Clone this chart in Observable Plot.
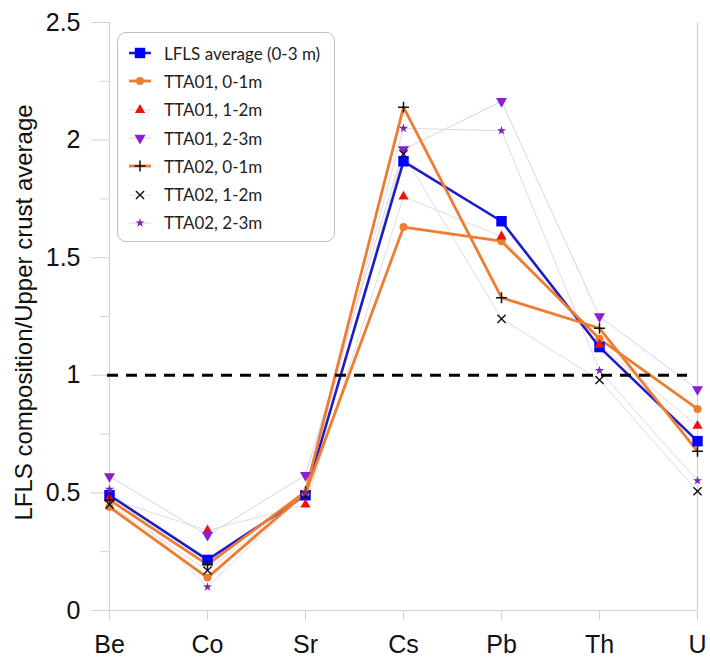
<!DOCTYPE html>
<html>
<head>
<meta charset="utf-8">
<script src="https://cdn.jsdelivr.net/npm/d3@7"></script>
<script src="https://cdn.jsdelivr.net/npm/@observablehq/plot@0.6"></script>
<style>
  html, body { margin: 0; padding: 0; background: #fff; }
  #wrap { position: relative; width: 710px; height: 658px; }
  #wrap svg.plot { display: block; }
  #legend {
    position: absolute; left: 117px; top: 32px; width: 218px; height: 210px;
    border: 1px solid #bdbdbd; border-radius: 9px; background: #fff; box-sizing: border-box;
    font-family: Lato, "Open Sans", sans-serif; font-size: 17px; color: #222;
    padding-top: 6px;
  }
  .lrow { display: flex; align-items: center; height: 28.3px; }
  .lrow svg { margin-left: 10px; margin-right: 12px; flex: none; }
</style>
</head>
<body>
<div id="wrap"><div id="legend"></div></div>
<script>
// ---------- data ----------
const categories = ["Be", "Co", "Sr", "Cs", "Pb", "Th", "U"];
const lflsAverage = [0.49, 0.215, 0.49, 1.91, 1.655, 1.12, 0.72];
const tta01_0_1 = [0.44, 0.14, 0.50, 1.63, 1.57, 1.155, 0.857];
const tta01_1_2 = [0.475, 0.34, 0.45, 1.76, 1.59, 1.13, 0.785];
const tta01_2_3 = [0.57, 0.32, 0.575, 1.96, 2.165, 1.25, 0.94];
const tta02_0_1 = [0.47, 0.195, 0.505, 2.14, 1.33, 1.20, 0.677];
const tta02_1_2 = [0.45, 0.17, 0.49, 1.94, 1.24, 0.98, 0.507];
const tta02_2_3 = [0.515, 0.10, 0.50, 2.05, 2.04, 1.02, 0.552];
const referenceLevel = [1];
const seriesNames = ["LFLS average (0-3 m)", "TTA01, 0-1m", "TTA01, 1-2m", "TTA01, 2-3m", "TTA02, 0-1m", "TTA02, 1-2m", "TTA02, 2-3m"];
const yTicks = [0, 0.5, 1, 1.5, 2, 2.5];
const yTickLabels = ["0", "0.5", "1", "1.5", "2", "2.5"];
const yMinorTicks = [0.25, 0.75, 1.25, 1.75, 2.25];
const yLabel = "LFLS composition/Upper crust average";

// ---------- styles ----------
const triangleDown = {
  draw(ctx, size) {
    const y = Math.sqrt(size / (Math.sqrt(3) * 3));
    ctx.moveTo(0, y * 2);
    ctx.lineTo(-Math.sqrt(3) * y, -y);
    ctx.lineTo(Math.sqrt(3) * y, -y);
    ctx.closePath();
  }
};
const seriesValues = [lflsAverage, tta01_0_1, tta01_1_2, tta01_2_3, tta02_0_1, tta02_1_2, tta02_2_3];
const styles = [
  {line: "#1c1cc8", lw: 2.6, symbol: "square", fill: "#0000ff", stroke: "none", r: 5.9},
  {line: "#ed7d31", lw: 2.8, symbol: "circle", fill: "#ed7d31", stroke: "none", r: 4},
  {line: "#e2dcdc", lw: 1, symbol: "triangle", fill: "#f01010", stroke: "none", r: 3.8},
  {line: "#dccfe8", lw: 1, symbol: triangleDown, fill: "#8a1fcf", stroke: "none", r: 4.1},
  {line: "#ed7d31", lw: 2.8, symbol: "plus", fill: "none", stroke: "#111", r: 3.6, sw: 1.5},
  {line: "#dddddd", lw: 1, symbol: "times", fill: "none", stroke: "#111", r: 3.8, sw: 1.4},
  {line: "#e2d6ee", lw: 1, symbol: "star", fill: "#7a26b8", stroke: "none", r: 2.9}
];
const rows = seriesNames.flatMap((name, s) => categories.map((c, i) => ({series: name, s, cat: c, v: seriesValues[s][i]})));

const axisGray = "#d2d2d2";
const marks = [
  Plot.ruleX([categories[0], categories[categories.length - 1]], {y1: 0, y2: 2.5, stroke: axisGray, strokeWidth: 1.2}),
  Plot.ruleY([0], {stroke: axisGray, strokeWidth: 1.2}),
  Plot.axisY({ticks: yMinorTicks, tickSize: 9, tickFormat: () => "", stroke: axisGray, label: null}),
  Plot.axisY({ticks: yTicks, tickSize: 18, tickPadding: 11, tickFormat: (d) => yTickLabels[yTicks.indexOf(d)], stroke: axisGray, fill: "#111", fontSize: 25, label: null}),
  Plot.axisX({tickSize: 10, tickPadding: 15, stroke: axisGray, fill: "#111", fontSize: 25, label: null}),
  Plot.text([yLabel], {frameAnchor: "left", dx: -85, dy: -4, rotate: -90, textAnchor: "middle", lineAnchor: "middle", fontSize: 24, fill: "#111"})
];
// thin lines first, then thick ones in series order
const order = [2, 3, 5, 6, 0, 1, 4];
for (const s of order) {
  const st = styles[s];
  marks.push(Plot.line(rows.filter(d => d.s === s), {x: "cat", y: "v", stroke: st.line, strokeWidth: st.lw, strokeLinejoin: "round"}));
}
marks.push(Plot.ruleY(referenceLevel, {stroke: "#000", strokeWidth: 3, strokeDasharray: "11,8", insetRight: 10, insetLeft: -2}));
for (let s = 0; s < styles.length; s++) {
  const st = styles[s];
  marks.push(Plot.dot(rows.filter(d => d.s === s), {x: "cat", y: "v", symbol: () => st.symbol, r: st.r, fill: st.fill, stroke: st.stroke, strokeWidth: st.sw || 1}));
}

const chart = Plot.plot({
  width: 710, height: 658,
  marginLeft: 109, marginRight: 13, marginTop: 22, marginBottom: 48,
  style: {fontFamily: "'Liberation Sans', Arial, sans-serif", fontSize: "25px", background: "white", color: "#111"},
  x: {type: "point", domain: categories, padding: 0, axis: null},
  y: {domain: [0, 2.5], axis: null},
  marks
});
chart.classList.add("plot");
document.getElementById("wrap").prepend(chart);

// ---------- legend ----------
const legend = d3.select("#legend");
seriesNames.forEach((name, s) => {
  const st = styles[s];
  const row = legend.append("div").attr("class", "lrow");
  const svg = row.append("svg").attr("width", 24).attr("height", 20);
  svg.append("line").attr("x1", 1).attr("x2", 23).attr("y1", 10).attr("y2", 10)
    .attr("stroke", st.line).attr("stroke-width", st.lw);
  const sym = typeof st.symbol === "string" ? d3["symbol" + st.symbol[0].toUpperCase() + st.symbol.slice(1)] : st.symbol;
  svg.append("path").attr("transform", "translate(12,10)")
    .attr("d", d3.symbol(sym, Math.PI * st.r * st.r)())
    .attr("fill", st.fill).attr("stroke", st.stroke).attr("stroke-width", st.sw || 1);
  row.append("span").text(name);
});
</script>
</body>
</html>
